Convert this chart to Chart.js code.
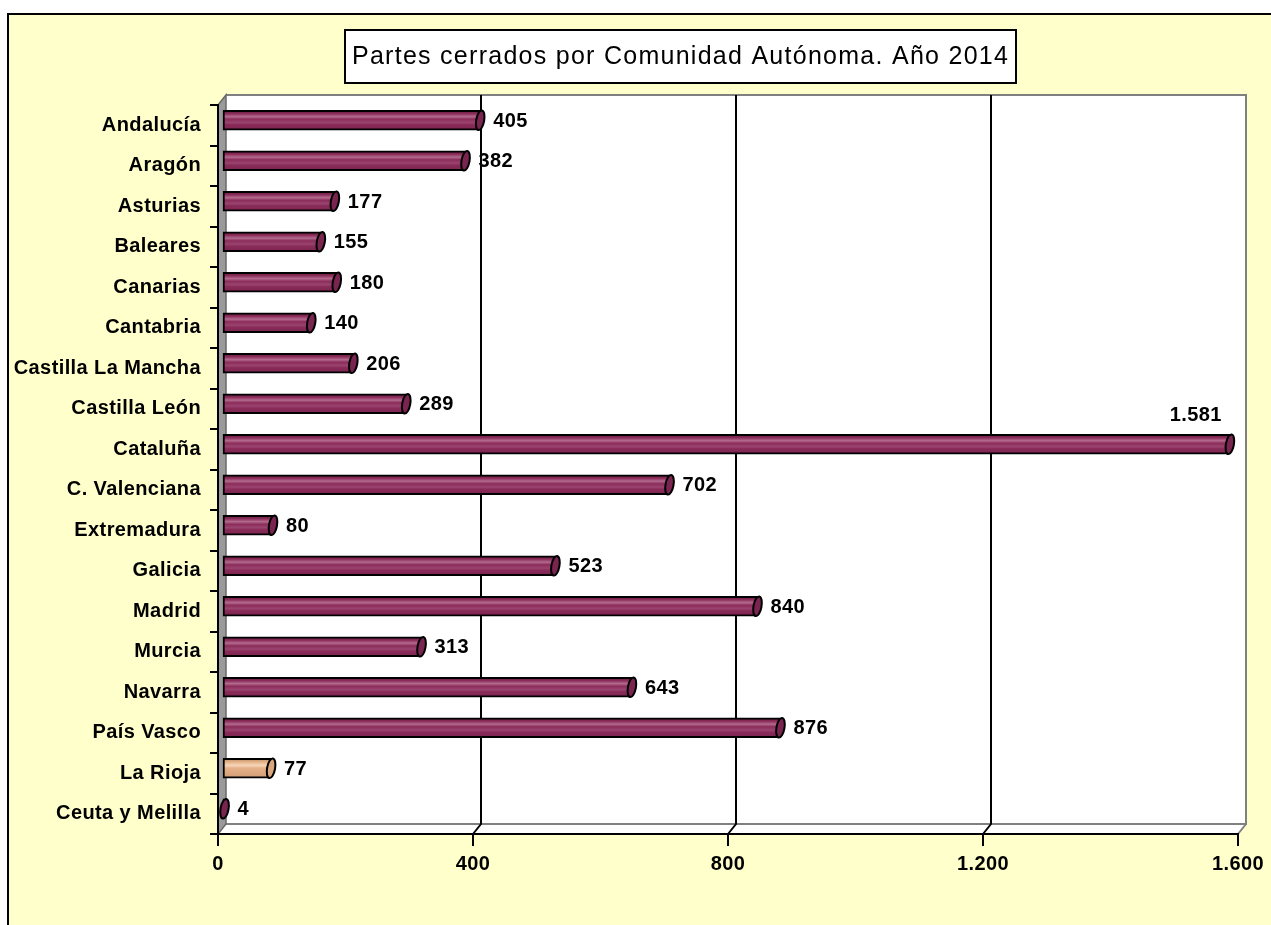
<!DOCTYPE html>
<html>
<head>
<meta charset="utf-8">
<script src="https://cdn.jsdelivr.net/npm/chart.js@4/dist/chart.umd.min.js"></script>
<style>
  html, body { margin: 0; padding: 0; background: #ffffff; }
  canvas { display: block; }
</style>
</head>
<body>
<canvas id="chart" width="1271" height="925"></canvas>
<script>
// Chart data
const titleText = 'Partes cerrados por Comunidad Autónoma. Año 2014';
const categories = ['Andalucía', 'Aragón', 'Asturias', 'Baleares', 'Canarias', 'Cantabria',
    'Castilla La Mancha', 'Castilla León', 'Cataluña', 'C. Valenciana', 'Extremadura',
    'Galicia', 'Madrid', 'Murcia', 'Navarra', 'País Vasco', 'La Rioja', 'Ceuta y Melilla'];
const partes = [405, 382, 177, 155, 180, 140, 206, 289, 1581, 702, 80, 523, 840, 313, 643, 876, 77, 4];
const xTicks = [0, 400, 800, 1200, 1600];
const highlighted = 'La Rioja';

// 3D depth of the walls
const DX = 8, DY = -10;
const FONT = '"Liberation Sans", Arial, Helvetica, sans-serif';

// Spanish thousand separator
function fmt(n) {
    return String(n).replace(/\B(?=(\d{3})+(?!\d))/g, '.');
}

function barGradient(ctx, top, h, isTan) {
    const g = ctx.createLinearGradient(0, top, 0, top + h);
    if (isTan) {
        g.addColorStop(0, '#b98a62');
        g.addColorStop(0.2, '#e6b58c');
        g.addColorStop(0.35, '#f6d6b8');
        g.addColorStop(0.5, '#e4b088');
        g.addColorStop(1, '#d29d74');
    } else {
        g.addColorStop(0, '#5e1638');
        g.addColorStop(0.18, '#8e2e5c');
        g.addColorStop(0.32, '#b26b8e');
        g.addColorStop(0.45, '#8c2c5a');
        g.addColorStop(0.62, '#9a4470');
        g.addColorStop(0.72, '#8a2b59');
        g.addColorStop(1, '#7a2450');
    }
    return g;
}

// Yellow page, frame, 3D walls and back grid lines
const wallsPlugin = {
    id: 'walls',
    beforeDraw(chart) {
        const ctx = chart.ctx;
        const { left: L, right: R, top: T, bottom: B } = chart.chartArea;
        const x = chart.scales.x;
        ctx.save();
        ctx.fillStyle = '#ffffff';
        ctx.fillRect(0, 0, chart.width, chart.height);
        ctx.fillStyle = '#ffffcc';
        ctx.fillRect(8, 14, chart.width - 8, chart.height - 14);
        ctx.strokeStyle = '#000';
        ctx.lineWidth = 2;
        ctx.beginPath();
        ctx.moveTo(8, chart.height);
        ctx.lineTo(8, 14);
        ctx.lineTo(chart.width, 14);
        ctx.stroke();

        // back wall
        ctx.fillStyle = '#ffffff';
        ctx.fillRect(L + DX, T + DY, R - L, B - T);
        // floor
        ctx.beginPath();
        ctx.moveTo(L, B);
        ctx.lineTo(L + DX, B + DY);
        ctx.lineTo(R + DX, B + DY);
        ctx.lineTo(R, B);
        ctx.closePath();
        ctx.fill();
        ctx.strokeStyle = '#808080';
        ctx.lineWidth = 2;
        ctx.beginPath();
        ctx.moveTo(L + DX, T + DY);
        ctx.lineTo(R + DX, T + DY);
        ctx.lineTo(R + DX, B + DY);
        ctx.lineTo(L + DX, B + DY);
        ctx.moveTo(R + DX, B + DY);
        ctx.lineTo(R, B);
        ctx.stroke();

        // side wall
        ctx.fillStyle = '#9a9a9a';
        ctx.beginPath();
        ctx.moveTo(L, T);
        ctx.lineTo(L + DX, T + DY);
        ctx.lineTo(L + DX, B + DY);
        ctx.lineTo(L, B);
        ctx.closePath();
        ctx.fill();
        ctx.strokeStyle = '#6a6a6a';
        ctx.lineWidth = 1.5;
        ctx.stroke();

        // grid lines on back wall
        ctx.strokeStyle = '#000';
        ctx.lineWidth = 2;
        xTicks.forEach(v => {
            if (v === xTicks[0] || v === xTicks[xTicks.length - 1]) return;
            const px = x.getPixelForValue(v);
            ctx.beginPath();
            ctx.moveTo(px + DX, T + DY);
            ctx.lineTo(px + DX, B + DY);
            ctx.lineTo(px, B);
            ctx.stroke();
        });
        ctx.restore();
        // slightly wider glyph spacing for the axis labels
        ctx.letterSpacing = '0.4px';
    },
    afterDraw(chart) {
        // title box
        const ctx = chart.ctx;
        ctx.save();
        ctx.font = '25px ' + FONT;
        ctx.letterSpacing = '0px';
        const w = ctx.measureText(titleText).width;
        const target = 657;
        ctx.letterSpacing = Math.max(0, (target - w) / titleText.length).toFixed(2) + 'px';
        ctx.fillStyle = '#ffffff';
        ctx.fillRect(345, 30, 671, 53);
        ctx.strokeStyle = '#000';
        ctx.lineWidth = 2;
        ctx.strokeRect(345, 30, 671, 53);
        ctx.fillStyle = '#000';
        ctx.textAlign = 'left';
        ctx.textBaseline = 'middle';
        ctx.fillText(titleText, 352, 57);
        ctx.restore();
    }
};

// Bars sit in the middle of the depth; end caps + value labels
const cylinderPlugin = {
    id: 'cylinder',
    beforeDatasetsDraw(chart) {
        chart.ctx.save();
        chart.ctx.translate(DX / 2, DY / 2);
    },
    afterDatasetsDraw(chart) {
        const ctx = chart.ctx;
        const meta = chart.getDatasetMeta(0);
        meta.data.forEach((bar, i) => {
            const isTan = categories[i] === highlighted;
            const ry = bar.height / 2;
            ctx.beginPath();
            ctx.ellipse(bar.x, bar.y, 4, ry, 0.18, 0, Math.PI * 2);
            ctx.fillStyle = isTan ? '#d8a57c' : '#7a2450';
            ctx.fill();
            ctx.strokeStyle = '#000';
            ctx.lineWidth = 2;
            ctx.stroke();
        });
        ctx.font = 'bold 20px ' + FONT;
        ctx.letterSpacing = '0.4px';
        ctx.fillStyle = '#000';
        ctx.textBaseline = 'middle';
        meta.data.forEach((bar, i) => {
            const label = fmt(partes[i]);
            const tw = ctx.measureText(label).width;
            if (bar.x + 13 + tw > chart.chartArea.right) {
                ctx.textAlign = 'right';
                ctx.fillText(label, bar.x - 8, bar.y - 29);
            } else {
                ctx.textAlign = 'left';
                ctx.fillText(label, bar.x + 13, bar.y + 1);
            }
        });
        ctx.restore();
    }
};

Chart.defaults.font.family = FONT;
Chart.defaults.color = '#000';

new Chart(document.getElementById('chart'), {
    type: 'bar',
    data: {
        labels: categories,
        datasets: [{
            data: partes,
            barThickness: 20,
            borderColor: '#000',
            borderWidth: 2,
            borderSkipped: false,
            backgroundColor: function(context) {
                const chart = context.chart;
                const isTan = categories[context.dataIndex] === highlighted;
                const flat = isTan ? '#e6b58c' : '#8e2e5c';
                const y = chart.scales.y;
                if (!y || context.dataIndex === undefined) return flat;
                const cy = y.getPixelForValue(context.dataIndex);
                if (!isFinite(cy)) return flat;
                return barGradient(chart.ctx, cy - 10, 20, isTan);
            }
        }]
    },
    options: {
        indexAxis: 'y',
        responsive: false,
        animation: false,
        events: [],
        layout: {
            padding: { left: 0, top: 105, right: 33, bottom: 31 }
        },
        plugins: {
            legend: { display: false },
            title: { display: false },
            tooltip: { enabled: false }
        },
        scales: {
            x: {
                min: 0,
                max: 1600,
                afterFit(scale) { scale.height = 60; },
                afterBuildTicks(scale) {
                    scale.ticks = xTicks.map(v => ({ value: v }));
                },
                grid: {
                    drawOnChartArea: false,
                    drawTicks: true,
                    tickLength: 12,
                    color: '#000',
                    lineWidth: 2
                },
                border: { display: true, color: '#000', width: 2 },
                ticks: {
                    padding: 6,
                    maxRotation: 0,
                    autoSkip: false,
                    font: { size: 20, weight: 'bold' },
                    callback: v => fmt(v)
                }
            },
            y: {
                afterFit(scale) { scale.width = 218; },
                grid: {
                    offset: true,
                    drawOnChartArea: false,
                    drawTicks: true,
                    tickLength: 8,
                    color: '#000',
                    lineWidth: 2
                },
                border: { display: true, color: '#000', width: 2 },
                ticks: {
                    padding: 9,
                    autoSkip: false,
                    font: { size: 20, weight: 'bold' }
                }
            }
        }
    },
    plugins: [wallsPlugin, cylinderPlugin]
});
</script>
</body>
</html>
